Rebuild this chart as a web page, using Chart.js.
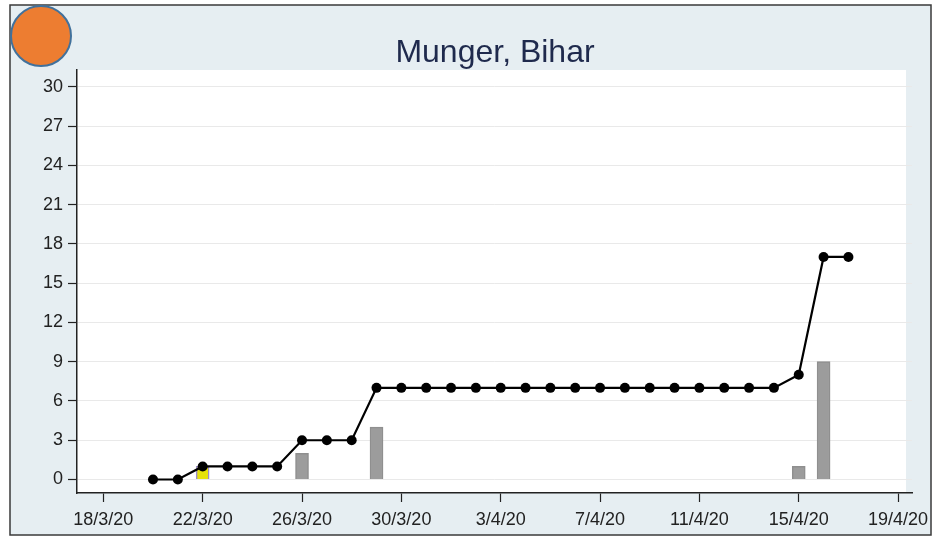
<!DOCTYPE html>
<html>
<head>
<meta charset="utf-8">
<script src="https://cdn.jsdelivr.net/npm/chart.js@4.4.0/dist/chart.umd.min.js"></script>
<style>
html,body{margin:0;padding:0;background:#ffffff;}
#wrap{width:933px;height:537px;}
</style>
</head>
<body>
<div id="wrap"><canvas id="c" width="933" height="537"></canvas></div>
<script>
// ---- data ----
const chartTitle = 'Munger, Bihar';
const startDate = '18/3/20';
const xTickLabels = ['18/3/20','22/3/20','26/3/20','30/3/20','3/4/20','7/4/20','11/4/20','15/4/20','19/4/20'];
const yTickValues = [0,3,6,9,12,15,18,21,24,27,30];

const lineDates = ['20/3/20','21/3/20','22/3/20','23/3/20','24/3/20','25/3/20','26/3/20','27/3/20','28/3/20',
  '29/3/20','30/3/20','31/3/20','1/4/20','2/4/20','3/4/20','4/4/20','5/4/20','6/4/20','7/4/20','8/4/20',
  '9/4/20','10/4/20','11/4/20','12/4/20','13/4/20','14/4/20','15/4/20','16/4/20','17/4/20'];
const cumulativeCases = [0,0,1,1,1,1,3,3,3,
  7,7,7,7,7,7,7,7,7,7,7,
  7,7,7,7,7,7,8,17,17];

const barDates = ['22/3/20','26/3/20','29/3/20','15/4/20','16/4/20'];
const newCases = [1,2,4,1,9];
const barKinds = ['first','other','other','other','other'];

// ---- helpers ----
function parseDate(s){ const p = s.split('/').map(Number); return Date.UTC(2000+p[2], p[1]-1, p[0]); }
const t0 = parseDate(startDate);
function dayIndex(s){ return Math.round((parseDate(s) - t0) / 864e5); }

const lineData = lineDates.map((d,i) => ({x: dayIndex(d), y: cumulativeCases[i]}));
const barData = barDates.map((d,i) => ({x: dayIndex(d), y: newCases[i]}));
const barFill = barKinds.map(k => k === 'first' ? '#e6e20a' : '#9c9c9c');
const barEdge = barKinds.map(k => k === 'first' ? '#9a8cc8' : '#8f8f8f');

const bgPlugin = {
  id: 'bg',
  beforeDraw(chart){
    const ctx = chart.ctx, a = chart.chartArea;
    ctx.save();
    ctx.fillStyle = '#ffffff';
    ctx.fillRect(0,0,chart.width,chart.height);
    ctx.fillStyle = '#e6eef2';
    ctx.fillRect(10,5,921,530);
    ctx.strokeStyle = '#3a3a3a';
    ctx.lineWidth = 1.5;
    ctx.strokeRect(10,5,921,530);
    ctx.fillStyle = '#ffffff';
    ctx.fillRect(a.left, a.top, a.right - a.left - 6, a.bottom - a.top);
    // orange badge
    ctx.beginPath();
    ctx.arc(41,36,30,0,Math.PI*2);
    ctx.fillStyle = '#ed7d31';
    ctx.fill();
    ctx.lineWidth = 2;
    ctx.strokeStyle = '#41719c';
    ctx.stroke();
    // title
    ctx.fillStyle = '#1f2a4d';
    ctx.font = '32px "Liberation Sans", Arial, sans-serif';
    ctx.textAlign = 'center';
    ctx.textBaseline = 'alphabetic';
    ctx.fillText(chartTitle, 495, 62);
    ctx.restore();
  }
};

new Chart(document.getElementById('c'), {
  type: 'bar',
  data: {
    datasets: [
      {
        type: 'line',
        data: lineData,
        borderColor: '#000000',
        borderWidth: 2.2,
        pointRadius: 5,
        pointBackgroundColor: '#000000',
        pointBorderColor: '#000000',
        pointBorderWidth: 0,
        tension: 0,
        order: 0
      },
      {
        type: 'bar',
        data: barData,
        backgroundColor: barFill,
        borderColor: barEdge,
        borderWidth: 1.5,
        barThickness: 13,
        order: 1
      }
    ]
  },
  options: {
    responsive: false,
    animation: false,
    devicePixelRatio: 1,
    layout: { padding: { top: 70, right: 21, bottom: 0, left: 0 } },
    plugins: { legend: { display: false }, tooltip: { enabled: false }, title: { display: false } },
    scales: {
      x: {
        type: 'linear',
        offset: false,
        min: -1.06,
        max: 32.56,
        ticks: {
          stepSize: 4,
          includeBounds: false,
          autoSkip: false,
          maxRotation: 0,
          padding: 7,
          color: '#222222',
          font: { family: '"Liberation Sans", Arial, sans-serif', size: 18 },
          callback: (v) => (v % 4 === 0 ? (xTickLabels[v/4] ?? '') : '')
        },
        grid: { display: true, drawOnChartArea: false, drawTicks: true, tickLength: 9, tickColor: '#222222', tickWidth: 1.2, offset: false },
        border: { display: true, color: '#222222', width: 1.5 },
        afterFit: (s) => { s.height = 44; s.paddingLeft = 0; s.paddingRight = 0; }
      },
      y: {
        type: 'linear',
        min: -1.03,
        max: 31.28,
        afterBuildTicks: (s) => { s.ticks = yTickValues.map(v => ({value: v})); },
        ticks: {
          stepSize: 3,
          includeBounds: false,
          padding: 5,
          color: '#222222',
          font: { family: '"Liberation Sans", Arial, sans-serif', size: 18 },
          callback: (v) => String(v)
        },
        grid: { color: '#e9e9e9', lineWidth: 1, drawTicks: true, tickLength: 9, tickColor: '#222222', tickWidth: 1.2 },
        border: { display: true, color: '#222222', width: 1.5 },
        afterFit: (s) => { s.width = 77; s.paddingTop = 0; s.paddingBottom = 0; }
      }
    }
  },
  plugins: [bgPlugin]
});
</script>
</body>
</html>
